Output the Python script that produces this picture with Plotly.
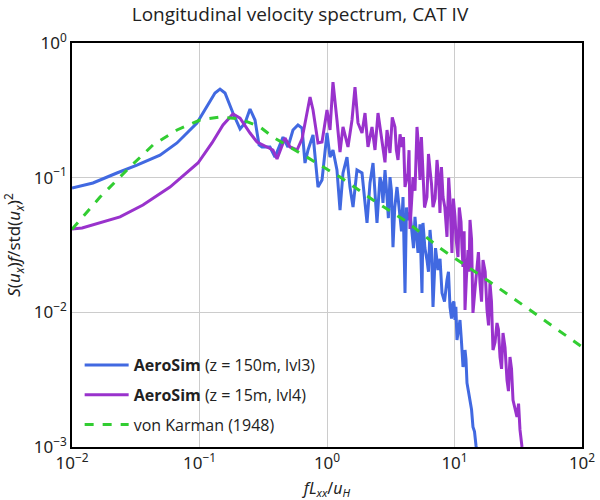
import plotly.graph_objects as go

# ---- data ----
f_150 = [0.01, 0.0146, 0.0225, 0.0323, 0.049, 0.0666, 0.0955, 0.1145, 0.1323, 0.1448,
         0.1585, 0.183, 0.208, 0.2275, 0.249, 0.2725, 0.293, 0.309, 0.357, 0.391,
         0.452, 0.494, 0.541, 0.592, 0.637, 0.672, 0.71, 0.777, 0.85, 0.914,
         1.0, 1.056, 1.114, 1.197, 1.265, 1.335, 1.435, 1.514, 1.6, 1.718,
         1.882, 2.06, 2.174, 2.296, 2.467, 2.604, 2.68, 2.748, 2.851, 2.956,
         3.03, 3.119, 3.2, 3.293, 3.4, 3.54, 3.64, 3.737, 3.84, 3.945,
         4.0, 4.091, 4.2, 4.317, 4.48, 4.642, 4.77, 4.898, 5.03, 5.173,
         5.36, 5.559, 5.66, 5.86, 6.08, 6.25, 6.427, 6.6, 6.783, 7.1,
         7.424, 7.7, 7.98, 8.35, 8.73, 8.97, 9.22, 9.48, 9.73, 9.9,
         10.09, 10.25, 10.46, 10.75, 11.04, 11.35, 11.66, 11.87, 12.09, 12.3,
         12.53, 12.85, 13.23, 13.6, 13.96, 14.35, 14.74, 15.28]
s_150 = [0.0838, 0.0913, 0.1083, 0.124, 0.147, 0.181, 0.2547, 0.335, 0.425, 0.455,
         0.425, 0.302, 0.23, 0.2547, 0.3235, 0.268, 0.175, 0.169, 0.169, 0.142,
         0.2, 0.169, 0.226, 0.246, 0.234, 0.1285, 0.1605, 0.2074, 0.0852, 0.0961,
         0.2146, 0.142, 0.1605, 0.114, 0.0575, 0.1083, 0.142, 0.0852, 0.0605, 0.114,
         0.1083, 0.0461, 0.0913, 0.1285, 0.0461, 0.101, 0.09, 0.0649, 0.114, 0.0718,
         0.05, 0.101, 0.08, 0.0305, 0.06, 0.0852, 0.065, 0.0485, 0.04, 0.0718,
         0.035, 0.0139, 0.06, 0.0485, 0.055, 0.0363, 0.03, 0.0511, 0.04, 0.0276,
         0.045, 0.0139, 0.0461, 0.03, 0.0245, 0.02, 0.0409, 0.03, 0.01095, 0.03,
         0.0206, 0.025, 0.0139, 0.012, 0.0174, 0.02, 0.01095, 0.009, 0.01173, 0.012,
         0.00877, 0.011, 0.00623, 0.0075, 0.00877, 0.006, 0.00393, 0.0042, 0.00525, 0.0045,
         0.00299, 0.0026, 0.00223, 0.0019, 0.00141, 0.0013, 0.00103, 0.0008]

f_15 = [0.01, 0.012, 0.0238, 0.036, 0.0587, 0.0973, 0.1253, 0.1529, 0.183, 0.208,
        0.249, 0.2825, 0.338, 0.377, 0.4055, 0.468, 0.513, 0.582, 0.637, 0.697,
        0.736, 0.777, 0.85, 0.914, 1.0, 1.056, 1.114, 1.197, 1.265, 1.335,
        1.461, 1.571, 1.658, 1.75, 1.882, 1.987, 2.097, 2.254, 2.379, 2.512,
        2.748, 2.85, 2.956, 3.119, 3.25, 3.413, 3.5, 3.605, 3.74, 3.873,
        3.98, 4.091, 4.317, 4.4, 4.477, 4.727, 4.9, 5.08, 5.22, 5.36,
        5.5, 5.66, 5.82, 6.08, 6.25, 6.427, 6.6, 6.783, 7.05, 7.29,
        7.5, 7.69, 7.9, 8.13, 8.4, 8.73, 9.0, 9.22, 9.4, 9.55,
        9.8, 10.09, 10.3, 10.65, 10.9, 11.25, 11.45, 11.66, 11.9, 12.09,
        12.4, 12.76, 13.0, 13.23, 13.6, 13.96, 14.5, 15.02, 15.4, 15.85,
        16.3, 16.73, 17.4, 17.99, 18.5, 18.98, 19.5, 20.04, 20.8, 21.54,
        22.1, 22.75, 23.4, 24.01, 24.9, 25.81, 26.5, 27.23, 28.0, 28.77,
        29.8, 30.9, 31.8, 32.64, 33.84, 35.08]
s_15 = [0.0416, 0.0423, 0.0511, 0.0627, 0.0852, 0.1285, 0.181, 0.246, 0.297, 0.277,
        0.2146, 0.184, 0.169, 0.1605, 0.1376, 0.197, 0.169, 0.1605, 0.194, 0.307,
        0.397, 0.318, 0.181, 0.184, 0.318, 0.226, 0.513, 0.268, 0.155, 0.238,
        0.169, 0.268, 0.471, 0.2547, 0.2146, 0.302, 0.169, 0.238, 0.1605, 0.302,
        0.175, 0.13, 0.226, 0.1524, 0.28, 0.238, 0.16, 0.1353, 0.21, 0.169,
        0.2, 0.0852, 0.1083, 0.16, 0.0416, 0.101, 0.08, 0.238, 0.17, 0.0961,
        0.2, 0.12, 0.06, 0.0718, 0.15, 0.114, 0.09, 0.0605, 0.07, 0.1353,
        0.1, 0.0547, 0.12, 0.0718, 0.06, 0.0363, 0.1, 0.0683, 0.045, 0.0276,
        0.07, 0.0511, 0.035, 0.02575, 0.06, 0.0469, 0.03, 0.0217, 0.04, 0.0104,
        0.018, 0.029, 0.02, 0.0485, 0.035, 0.00989, 0.015, 0.0232, 0.028, 0.0165,
        0.012, 0.0245, 0.02, 0.0104, 0.008, 0.0165, 0.012, 0.00525, 0.006, 0.00833,
        0.0075, 0.00466, 0.0038, 0.00702, 0.0055, 0.00314, 0.0026, 0.00466, 0.0038, 0.00223,
        0.0019, 0.00167, 0.0021, 0.00134, 0.001, 0.0008]

f_vk = [0.01, 0.0166, 0.0285, 0.0432, 0.0666, 0.101, 0.1448, 0.208, 0.298, 0.377,
        0.697, 1.265, 2.296, 4.242, 7.69, 18.98, 39.1, 100.0]
s_vk = [0.0413, 0.0718, 0.12, 0.175, 0.226, 0.268, 0.282, 0.273, 0.238, 0.2,
        0.142, 0.101, 0.0683, 0.0469, 0.03, 0.0168, 0.0104, 0.00553]

x_tickvals = [0.01, 0.1, 1, 10, 100]
x_ticktext = ["10<sup>\u22122</sup>", "10<sup>\u22121</sup>", "10<sup>0</sup>",
              "10<sup>1</sup>", "10<sup>2</sup>"]
y_tickvals = [0.001, 0.01, 0.1, 1]
y_ticktext = ["10<sup>\u22123</sup>", "10<sup>\u22122</sup>", "10<sup>\u22121</sup>",
              "10<sup>0</sup>"]

names = ["<b>AeroSim</b> (z = 150m, lvl3)",
         "<b>AeroSim</b> (z = 15m, lvl4)",
         "von Karman (1948)"]
colors = ["#4169E1", "#9932CC", "#32CD32"]

fig = go.Figure()
fig.add_trace(go.Scatter(x=f_150, y=s_150, mode="lines", name=names[0],
                         legendgroup="a", line=dict(color=colors[0], width=3)))
fig.add_trace(go.Scatter(x=f_15, y=s_15, mode="lines", name=names[1],
                         legendgroup="b", line=dict(color=colors[1], width=3)))
fig.add_trace(go.Scatter(x=f_vk, y=s_vk, mode="lines", name=names[2],
                         legendgroup="c", line=dict(color=colors[2], width=3, dash="dash")))

axis_common = dict(type="log", tickmode="array",
                   showgrid=True, gridcolor="#cccccc", gridwidth=1,
                   showline=True, linecolor="black", linewidth=1.5, mirror=True,
                   ticks="", zeroline=False, automargin=False,
                   tickfont=dict(family="Noto Sans", size=17, color="#222"))

fig.update_layout(
    width=600, height=500,
    paper_bgcolor="white", plot_bgcolor="white",
    margin=dict(l=72, r=18, t=43, b=53),
    title=dict(text="Longitudinal velocity spectrum, CAT IV",
               x=0.5, xref="container", xanchor="center",
               y=0.972, yref="container", yanchor="middle",
               font=dict(family="Open Sans", size=19, color="#222")),
    xaxis=dict(range=[-2, 2], tickvals=x_tickvals, ticktext=x_ticktext,
               title=dict(text="<i>fL</i><sub><i>xx</i></sub>/<i>u</i><sub><i>H</i></sub>",
                          font=dict(family="Noto Sans", size=16, color="#222")),
               **axis_common),
    yaxis=dict(range=[-3, 0], tickvals=y_tickvals, ticktext=y_ticktext,
               title=dict(text="<i>S</i>(<i>u</i><sub><i>x</i></sub>)<i>f</i>/std(<i>u</i><sub><i>x</i></sub>)<sup>2</sup>",
                          font=dict(family="Noto Sans", size=17, color="#222")),
               **axis_common),
    legend=dict(x=0.015, y=0.245, xanchor="left", yanchor="top",
                bgcolor="rgba(0,0,0,0)", borderwidth=0,
                font=dict(family="Open Sans", size=16, color="#222"),
                itemwidth=44, tracegroupgap=6),
    showlegend=True,
)

fig.write_html("out.html",
               config={"displayModeBar": False},
               post_script="document.body.style.margin='0';document.body.style.padding='0';")
